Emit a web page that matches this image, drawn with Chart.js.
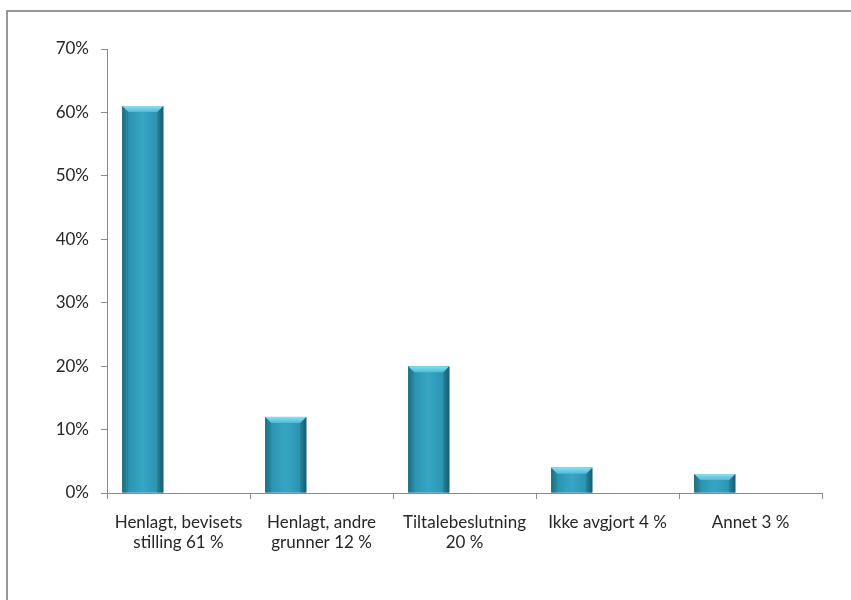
<!DOCTYPE html>
<html>
<head>
<meta charset="utf-8">
<script src="https://cdn.jsdelivr.net/npm/chart.js@4"></script>
<style>
  html, body { margin: 0; padding: 0; background: #fff; }
  #wrap { width: 851px; height: 600px; position: relative; }
</style>
</head>
<body>
<div id="wrap"><canvas id="chart-1" width="851" height="600"></canvas></div>
<script>
// data
const categories = [
    ['Henlagt, bevisets', 'stilling 61 %'],
    ['Henlagt, andre', 'grunner 12 %'],
    ['Tiltalebeslutning', '20 %'],
    'Ikke avgjort 4 %',
    'Annet 3 %'
]
const values = [61, 12, 20, 4, 3]
const emptySeries = [null, null, null, null, null]   // 2nd (empty) series from the original sheet
const yTicks = [0, 10, 20, 30, 40, 50, 60, 70]

// frame: only top and left edge are visible in the picture
const framePlugin = {
    id: 'frame',
    beforeDraw(chart) {
        const c = chart.ctx
        c.save()
        c.fillStyle = '#fff'
        c.fillRect(0, 0, chart.width, chart.height)
        c.fillStyle = '#979797'
        c.fillRect(6, 10, chart.width - 6, 2)
        c.fillRect(6, 10, 2, chart.height - 10)
        c.restore()
    }
}

// bevelled bar look drawn over the library's own bar elements
const bevelPlugin = {
    id: 'bevel',
    afterDatasetsDraw(chart) {
        const c = chart.ctx
        const meta = chart.getDatasetMeta(0)
        meta.data.forEach(bar => {
            const p = bar.getProps(['x', 'y', 'base', 'width'], true)
            const l = p.x - p.width / 2, r = p.x + p.width / 2
            const t = p.y, b = p.base
            const g = c.createLinearGradient(l, 0, r, 0)
            g.addColorStop(0, '#1e7189')
            g.addColorStop(0.12, '#2b92ae')
            g.addColorStop(0.5, '#36a6c4')
            g.addColorStop(0.88, '#2b92ae')
            g.addColorStop(1, '#186479')
            c.save()
            c.fillStyle = g
            c.fillRect(l, t, r - l, b - t)
            const bv = 6
            // top bevel
            const tg = c.createLinearGradient(0, t, 0, t + bv)
            tg.addColorStop(0, '#8ae0f3')
            tg.addColorStop(1, '#4bbcd9')
            c.fillStyle = tg
            c.beginPath()
            c.moveTo(l, t)
            c.lineTo(r, t)
            c.lineTo(r - bv, t + bv)
            c.lineTo(l + bv, t + bv)
            c.closePath()
            c.fill()
            // side bevels
            c.fillStyle = 'rgba(20,80,100,0.35)'
            c.beginPath()
            c.moveTo(r, t)
            c.lineTo(r, b)
            c.lineTo(r - bv, b)
            c.lineTo(r - bv, t + bv)
            c.closePath()
            c.fill()
            c.fillStyle = 'rgba(20,90,110,0.2)'
            c.beginPath()
            c.moveTo(l, t)
            c.lineTo(l + bv, t + bv)
            c.lineTo(l + bv, b)
            c.lineTo(l, b)
            c.closePath()
            c.fill()
            c.restore()
        })
    }
}

const ctx1 = document.getElementById('chart-1')

new Chart(ctx1, {
    type: 'bar',
    data: {
        labels: categories,
        datasets: [{
            data: values,
            backgroundColor: '#2e9ab8',
            categoryPercentage: 1,
            barPercentage: 0.575
        }, {
            data: emptySeries,
            backgroundColor: 'transparent',
            categoryPercentage: 1,
            barPercentage: 0.575
        }]
    },
    options: {
        responsive: false,
        animation: false,
        layout: {
            padding: { left: 0, top: 49, right: 29, bottom: 0 }
        },
        plugins: {
            legend: { display: false },
            tooltip: { enabled: false }
        },
        scales: {
            x: {
                grid: {
                    drawOnChartArea: false,
                    tickLength: 6,
                    color: '#8c8c8c',
                    offset: true
                },
                border: { color: '#8c8c8c', width: 1 },
                ticks: {
                    autoSkip: false,
                    maxRotation: 0,
                    padding: 13,
                    color: '#262626',
                    font: { family: 'Lato', size: 17, lineHeight: 1.2 }
                },
                afterFit(scale) { scale.height = 107 }
            },
            y: {
                min: 0,
                max: 70,
                afterBuildTicks(scale) { scale.ticks = yTicks.map(v => ({ value: v })) },
                grid: {
                    drawOnChartArea: false,
                    tickLength: 6,
                    color: '#8c8c8c'
                },
                border: { color: '#8c8c8c', width: 1 },
                ticks: {
                    padding: 12,
                    color: '#262626',
                    font: { family: 'Lato', size: 17 },
                    callback: v => v + '%'
                },
                afterFit(scale) { scale.width = 107 }
            }
        }
    },
    plugins: [framePlugin, bevelPlugin]
})
</script>
</body>
</html>
